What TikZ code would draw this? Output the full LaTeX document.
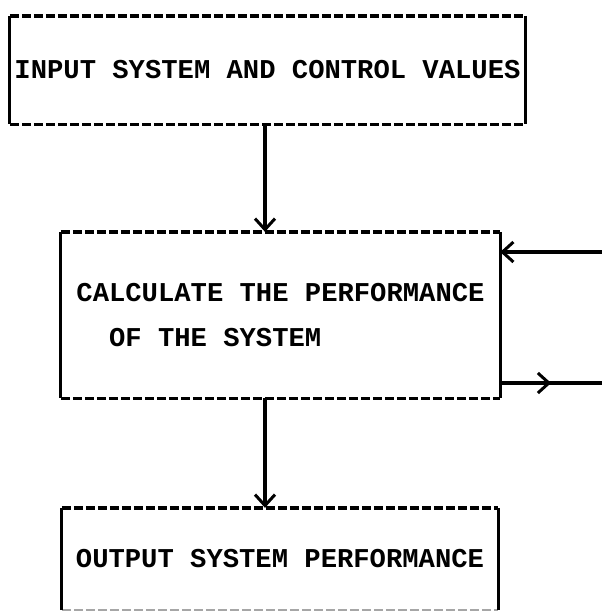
\documentclass[tikz,border=0pt]{standalone}
\usepackage{fontspec}
\setmonofont{Liberation Mono}
\usetikzlibrary{arrows.meta,decorations.markings}
\begin{document}
\begin{tikzpicture}[x=1pt,y=-1pt,
  boxtext/.style={inner sep=0pt,font=\ttfamily\bfseries\fontsize{27.2}{45}\selectfont,align=left},
  dashedge/.style={line width=3.4pt,dash pattern=on 9pt off 3pt},
  solidedge/.style={line width=3.2pt},
  flow/.style={line width=3.2pt,-{Straight Barb[length=11pt,width=20pt,line width=3pt]}},
  midflow/.style={line width=3.2pt,postaction={decorate},decoration={markings,
     mark=at position 0.5 with {\arrow{Straight Barb[length=11pt,width=20pt,line width=3pt]}}}}]
\useasboundingbox (0,0) rectangle (602,611);
% box 1
\node[boxtext,minimum width=515pt,minimum height=108pt] (inp) at (267.5,70) {INPUT SYSTEM AND CONTROL VALUES};
\draw[dashedge] (inp.north west) -- (inp.north east);
\draw[dashedge] (inp.south west) -- (inp.south east);
\draw[solidedge] (inp.north west) -- (inp.south west);
\draw[solidedge] (inp.north east) -- (inp.south east);
% box 2
\node[boxtext,minimum width=439pt,minimum height=166pt,text depth=0pt] (calc) at (280.5,315)
  {CALCULATE THE PERFORMANCE\\\hphantom{XX}OF THE SYSTEM};
\draw[dashedge] (calc.north west) -- (calc.north east);
\draw[dashedge] (calc.south west) -- (calc.south east);
\draw[solidedge] (calc.north west) -- (calc.south west);
\draw[solidedge] (calc.north east) -- (calc.south east);
% box 3
\node[boxtext,minimum width=436pt,minimum height=102pt] (outp) at (280,559) {OUTPUT SYSTEM PERFORMANCE};
\draw[dashedge] (outp.north west) -- (outp.north east);
\draw[dashedge,draw opacity=0.35] (outp.south west) -- (outp.south east);
\draw[solidedge] (outp.north west) -- (outp.south west);
\draw[solidedge] (outp.north east) -- (outp.south east);
% connectors
\coordinate (inB) at (602,252);
\coordinate (outB) at (602,383);
\draw[flow] (inp.south -| 265,0) -- (calc.north -| 265,0);
\draw[flow] (calc.south -| 265,0) -- (outp.north -| 265,0);
\draw[flow] (inB) -- (inB -| calc.east);
\draw[midflow] (outB -| calc.east) -- (outB);
\end{tikzpicture}
\end{document}
